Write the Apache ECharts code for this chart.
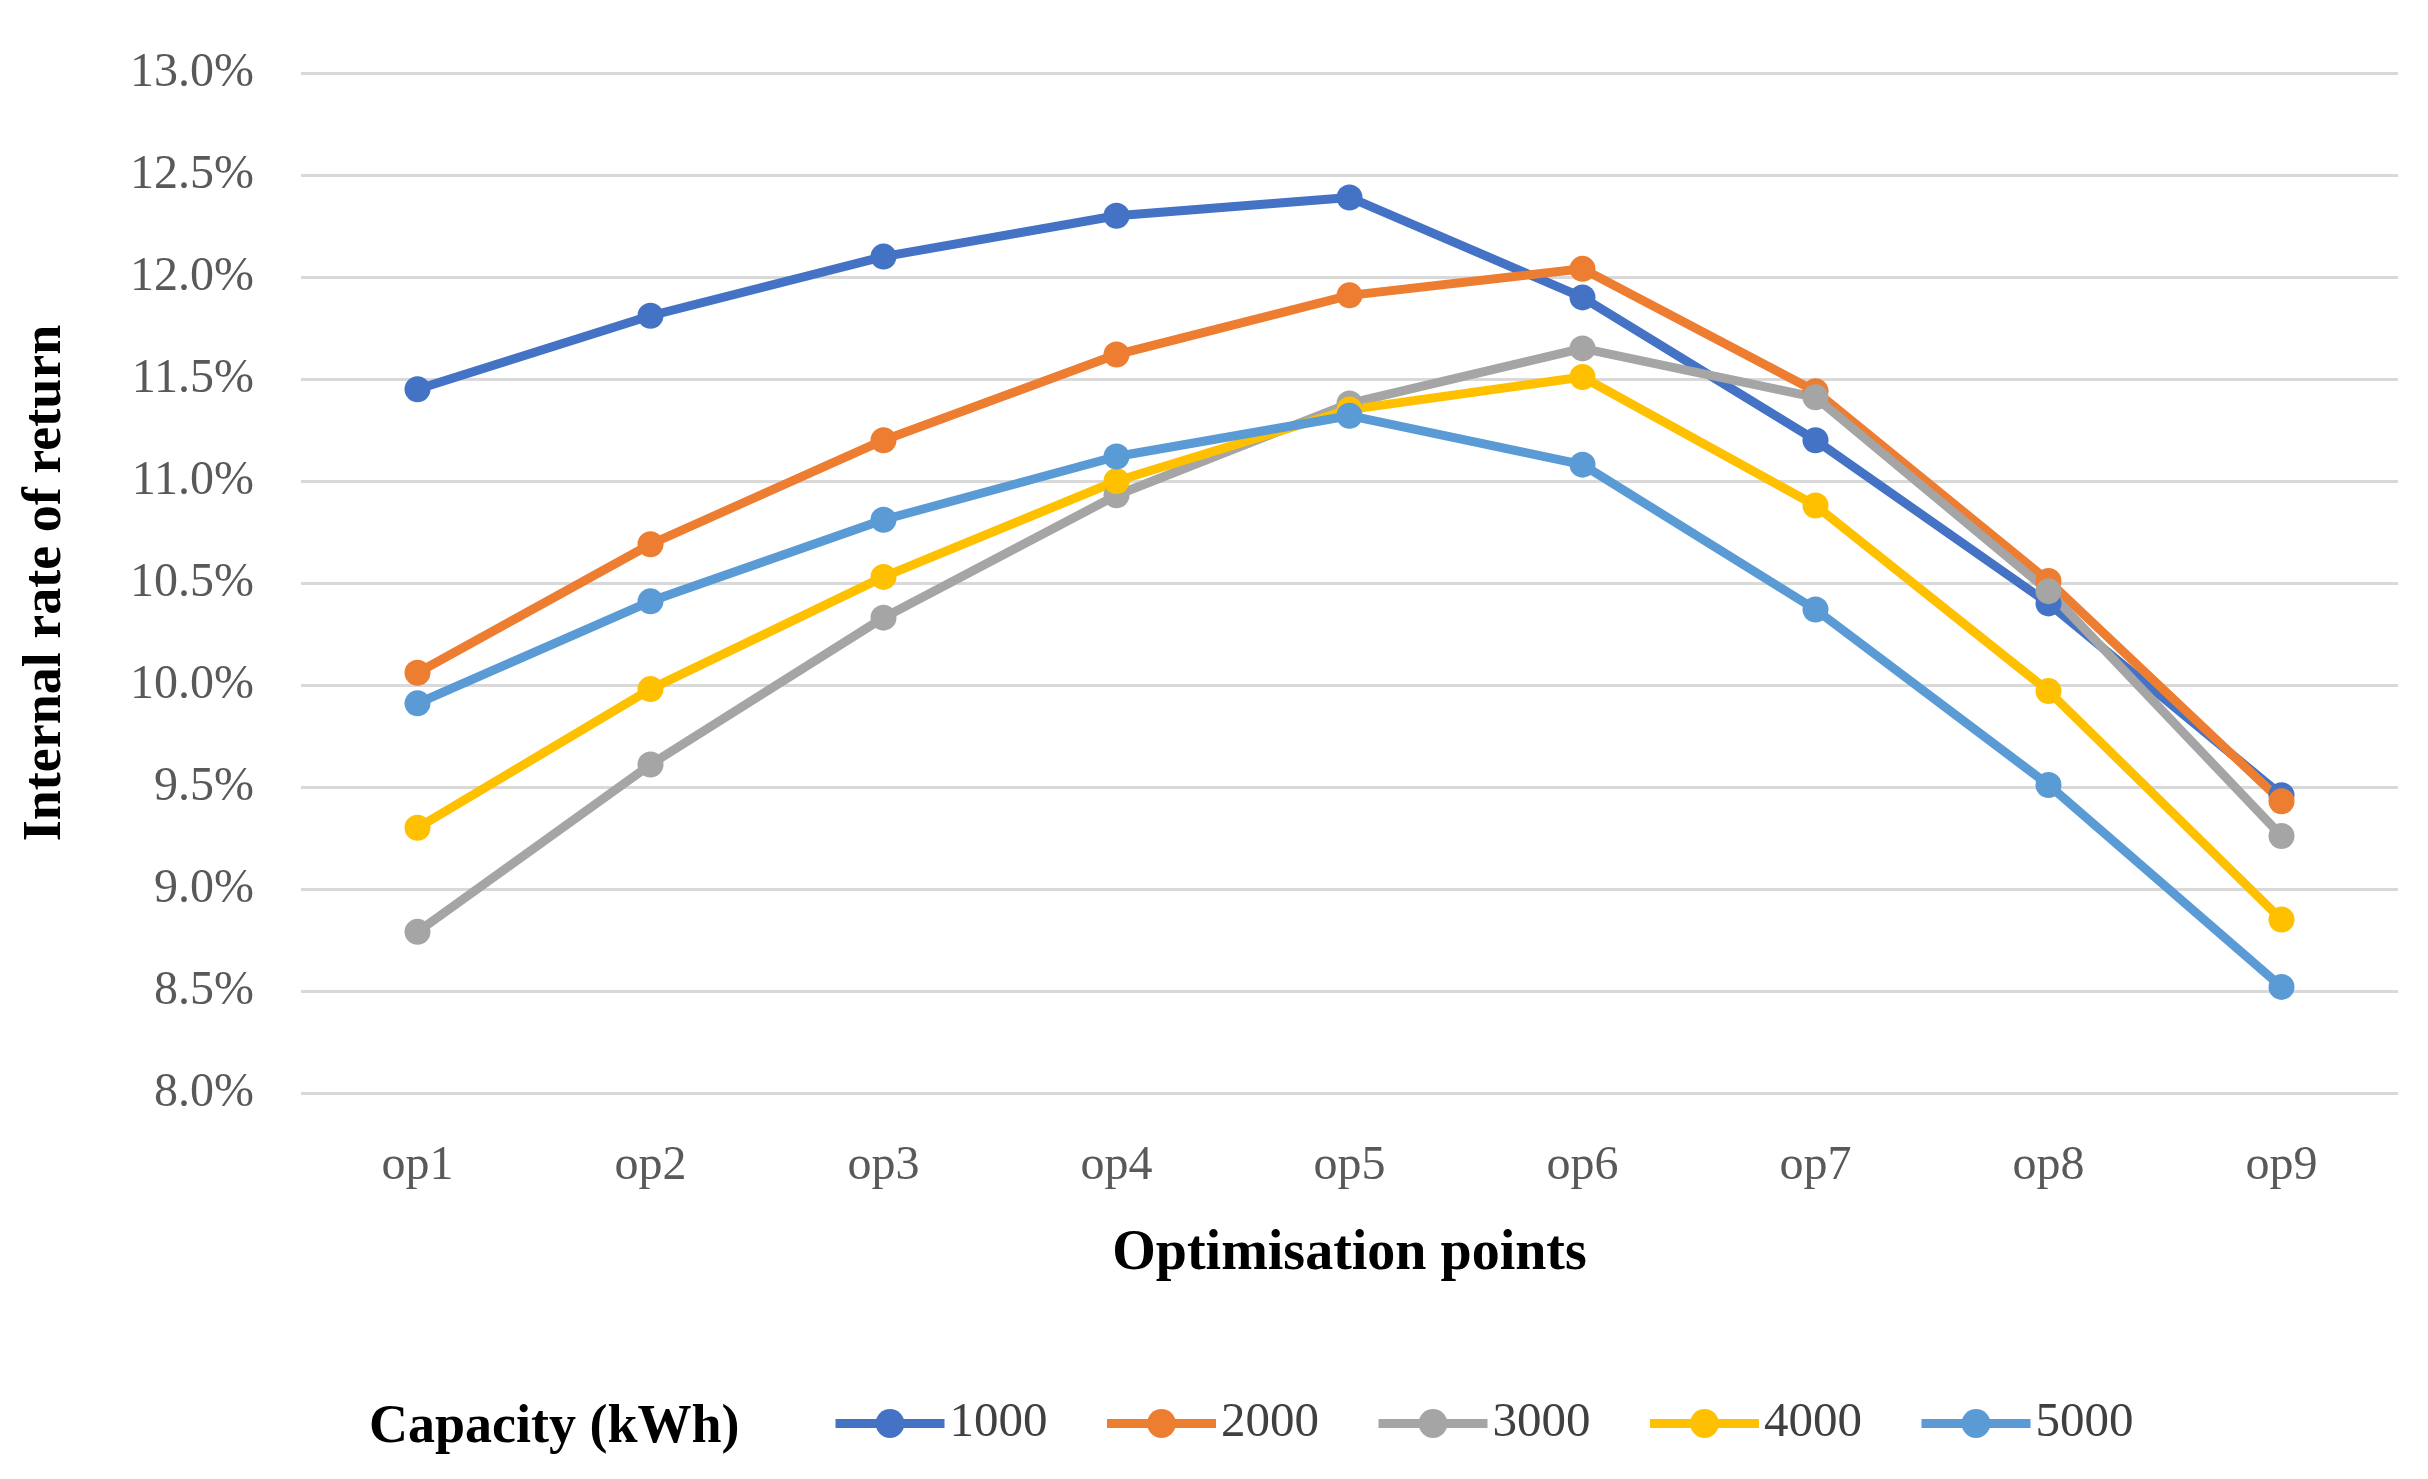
<!DOCTYPE html>
<html>
<head>
<meta charset="utf-8">
<script src="https://cdn.jsdelivr.net/npm/echarts@6/dist/echarts.min.js"></script>
<style>html,body{margin:0;padding:0;background:#fff;}#c{width:2428px;height:1479px;}</style>
</head>
<body>
<div id="c"></div>
<script>
const categories = ['op1','op2','op3','op4','op5','op6','op7','op8','op9'];
const seriesNames = ['1000','2000','3000','4000','5000'];
const cap1000 = [11.45, 11.81, 12.10, 12.30, 12.39, 11.90, 11.20, 10.40, 9.46];
const cap2000 = [10.06, 10.69, 11.20, 11.62, 11.91, 12.04, 11.44, 10.51, 9.43];
const cap3000 = [8.79, 9.61, 10.33, 10.93, 11.38, 11.65, 11.41, 10.46, 9.26];
const cap4000 = [9.30, 9.98, 10.53, 11.00, 11.35, 11.51, 10.88, 9.97, 8.85];
const cap5000 = [9.91, 10.41, 10.81, 11.12, 11.32, 11.08, 10.37, 9.51, 8.52];
const colors = ['#4472C4','#ED7D31','#A5A5A5','#FFC000','#5B9BD5'];
const allData = [cap1000, cap2000, cap3000, cap4000, cap5000];

const FONT = 'Liberation Serif';
const chart = echarts.init(document.getElementById('c'));
chart.setOption({
  animation: false,
  backgroundColor: '#fff',
  title: {
    text: 'Capacity (kWh)',
    left: 364, top: 1396,
    textStyle: { fontFamily: FONT, fontWeight: 'bold', fontSize: 54, color: '#000' }
  },
  legend: {
    data: seriesNames,
    left: 826, top: 1394,
    itemWidth: 109, itemHeight: 36, itemGap: 55,
    lineStyle: { width: 9 },
    textStyle: { fontFamily: FONT, fontSize: 49, color: '#404040' }
  },
  grid: { left: 301, right: 30, top: 73, bottom: 386, containLabel: false },
  xAxis: {
    type: 'category',
    data: categories,
    boundaryGap: true,
    name: 'Optimisation points',
    nameLocation: 'middle',
    nameGap: 134,
    nameTextStyle: { fontFamily: FONT, fontWeight: 'bold', fontSize: 56, color: '#000' },
    axisLine: { show: false },
    axisTick: { show: false },
    axisLabel: { fontFamily: FONT, fontSize: 48, color: '#595959', margin: 49 }
  },
  yAxis: {
    type: 'value',
    min: 8, max: 13, interval: 0.5,
    name: 'Internal rate of return',
    nameLocation: 'middle',
    nameGap: 228,
    nameTextStyle: { fontFamily: FONT, fontWeight: 'bold', fontSize: 54, color: '#000' },
    axisLine: { show: false },
    axisTick: { show: false },
    splitLine: { lineStyle: { color: '#D9D9D9', width: 3 } },
    axisLabel: { fontFamily: FONT, fontSize: 48, color: '#595959', margin: 47,
      formatter: v => v.toFixed(1) + '%' }
  },
  series: seriesNames.map((n, i) => ({
    name: n,
    type: 'line',
    data: allData[i],
    symbol: 'circle',
    symbolSize: 26,
    color: colors[i],
    lineStyle: { width: 9, color: colors[i] },
    itemStyle: { color: colors[i] }
  }))
});
</script>
</body>
</html>
